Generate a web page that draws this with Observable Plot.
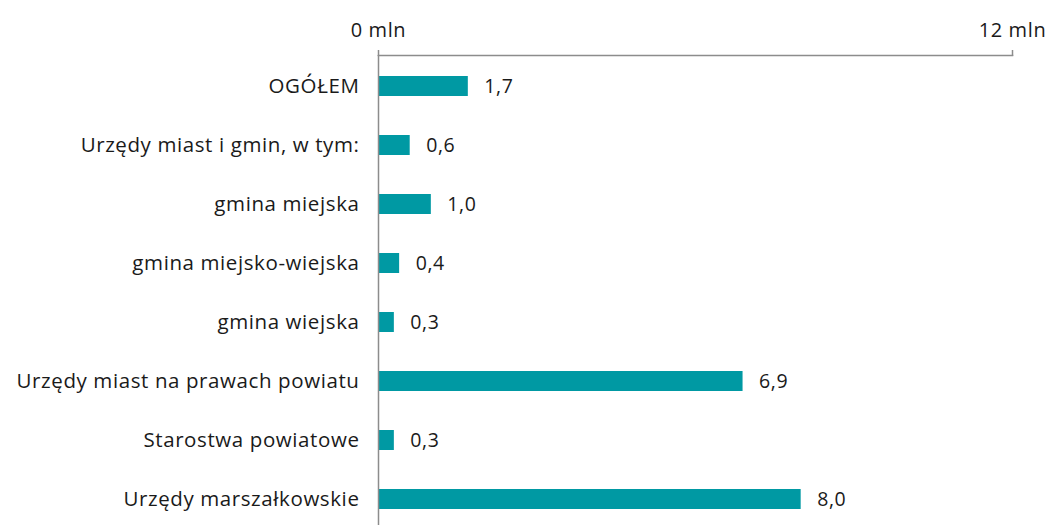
<!DOCTYPE html>
<html>
<head>
<meta charset="utf-8">
<script src="https://cdn.jsdelivr.net/npm/d3@7"></script>
<script src="https://cdn.jsdelivr.net/npm/@observablehq/plot@0.6"></script>
<style>
  html, body { margin: 0; padding: 0; background: #fff; }
  #chart svg { display: block; }
  #chart svg text { letter-spacing: 0.6px; }
</style>
</head>
<body>
<div id="chart"></div>
<script>
const categories = [
  "OGÓŁEM",
  "Urzędy miast i gmin, w tym:",
  "gmina miejska",
  "gmina miejsko-wiejska",
  "gmina wiejska",
  "Urzędy miast na prawach powiatu",
  "Starostwa powiatowe",
  "Urzędy marszałkowskie"
];
const values = [1.7, 0.6, 1.0, 0.4, 0.3, 6.9, 0.3, 8.0];
const xTicks = [0, 12];
const unit = " mln";

const data = categories.map((c, i) => ({category: c, value: values[i]}));
const fmt = v => v.toFixed(1).replace(".", ",");
const teal = "#0099a3";
const font = "'Open Sans', 'Noto Sans', sans-serif";

const chart = Plot.plot({
  width: 1046,
  height: 525,
  marginLeft: 378,
  marginRight: 34,
  marginTop: 55,
  marginBottom: -6,
  style: {fontFamily: font, fontSize: "20px", color: "#1a1a1a", background: "#fff"},
  x: {domain: [0, 12], axis: null},
  y: {domain: categories, paddingInner: 0.66, paddingOuter: 0.33, axis: null},
  marks: [
    Plot.frame({anchor: "top", stroke: "#8c8c8c", strokeWidth: 1.5}),
    Plot.axisX(xTicks, {anchor: "top", label: null, tickSize: 6, tickPadding: 13, tickFormat: d => d + unit, stroke: "#8c8c8c", strokeWidth: 1.5, fill: "#1a1a1a", fontSize: 20}),
    Plot.axisY({anchor: "left", label: null, tickSize: 0, tickPadding: 19, fill: "#1a1a1a", fontSize: 20.5}),
    Plot.barX(data, {x: "value", y: "category", fill: teal}),
    Plot.ruleX([0], {stroke: "#8c8c8c", strokeWidth: 1.5}),
    Plot.text(data, {x: "value", y: "category", text: d => fmt(d.value), textAnchor: "start", dx: 16, fill: "#1a1a1a", fontSize: 19.5})
  ]
});
document.getElementById("chart").append(chart);
</script>
</body>
</html>
